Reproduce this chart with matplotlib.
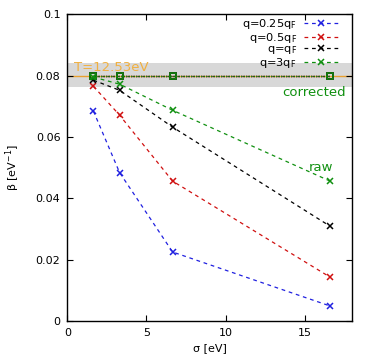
import numpy as np
import matplotlib
matplotlib.use("Agg")
import matplotlib.pyplot as plt

# sigma values [eV]
sigma = [1.65, 3.3, 6.65, 16.6]
labels = ["q=0.25q$_\\mathregular{F}$", "q=0.5q$_\\mathregular{F}$",
          "q=q$_\\mathregular{F}$", "q=3q$_\\mathregular{F}$"]
colors = ["#2020e0", "#d01010", "#000000", "#109010"]

# raw beta values per q
raw_025 = [0.0684, 0.0484, 0.0225, 0.0049]
raw_05 = [0.0765, 0.0671, 0.0456, 0.0143]
raw_1 = [0.0785, 0.0752, 0.0632, 0.0309]
raw_3 = [0.0795, 0.0772, 0.0687, 0.0456]

# corrected beta values per q
cor_025 = [0.0798, 0.0798, 0.0798, 0.0798]
cor_05 = [0.0798, 0.0798, 0.0798, 0.0798]
cor_1 = [0.0798, 0.0798, 0.0798, 0.0798]
cor_3 = [0.0798, 0.0798, 0.0798, 0.0798]

T = 12.53
beta_lo, beta_hi = 0.0762, 0.0840

plt.rcParams['font.family'] = ['DejaVu Sans']
plt.rcParams['font.size'] = 8

fig = plt.figure(figsize=(3.74, 3.64), dpi=100)
ax = fig.add_axes([0.18, 0.118, 0.762, 0.843])

ax.axhspan(beta_lo, beta_hi, color="#d8d8d8", lw=0, zorder=0)
ax.axhline(1.0 / T, color="#e8a030", lw=1, zorder=1)

raws = [raw_025, raw_05, raw_1, raw_3]
cors = [cor_025, cor_05, cor_1, cor_3]
for r, c, col, lab in zip(raws, cors, colors, labels):
    ax.plot(sigma, r, ls=(0, (3, 3)), color=col, lw=0.9, marker="x",
            ms=5, mew=1.1, label=lab)
    ax.plot(sigma, c, ls=(0, (1, 1)), color=col, lw=0.9, marker="s",
            ms=5, mfc="none", mew=1.1)

ax.text(0.4, 0.0815, "T=12.53eV", color="#f0b040", fontsize=9.5)
ax.text(17.6, 0.0765, "corrected", color="#109010", fontsize=9.5,
        ha="right", va="top")
ax.text(16.8, 0.0478, "raw", color="#109010", fontsize=9.5,
        ha="right", va="bottom")

ax.set_xlim(0, 18)
ax.set_ylim(0, 0.1)
ax.set_xticks([0, 5, 10, 15])
ax.set_yticks([0, 0.02, 0.04, 0.06, 0.08, 0.1])
ax.set_yticklabels(["0", "0.02", "0.04", "0.06", "0.08", "0.1"])
ax.tick_params(direction="in", top=True, right=True, length=4, width=0.8,
               labelsize=8, pad=5)
for s in ax.spines.values():
    s.set_linewidth(1.0)
ax.set_xlabel("σ [eV]", fontsize=8)
ax.set_ylabel("β [eV$^{-1}$]", fontsize=8, labelpad=10)

ax.legend(loc="upper right", bbox_to_anchor=(0.955, 0.995), markerfirst=False,
          frameon=False, fontsize=8.2, handlelength=3.0, handletextpad=0.6,
          labelspacing=-0.05, borderaxespad=0.0, borderpad=0.15)

fig.savefig("out.png", dpi=100)
